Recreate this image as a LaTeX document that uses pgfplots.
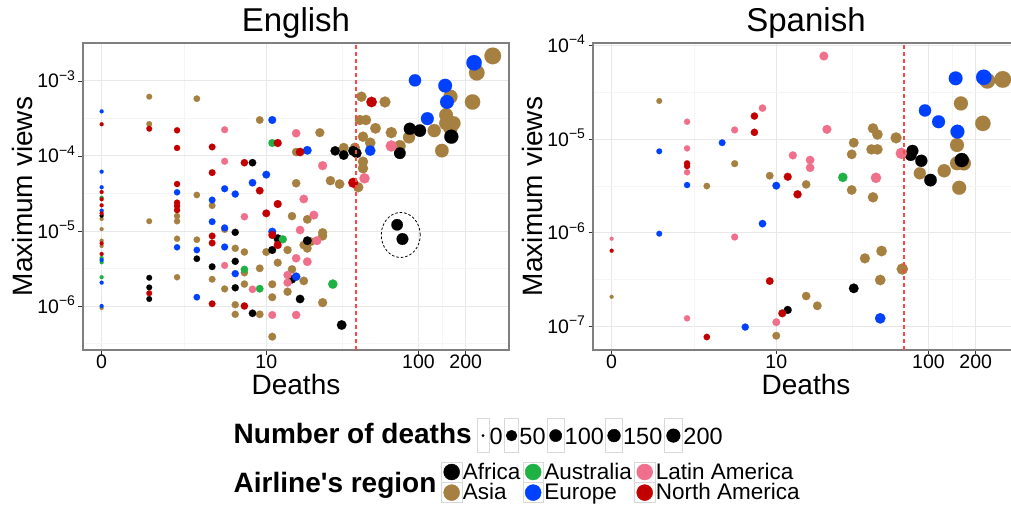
\documentclass[border=0pt]{standalone}
\usepackage{pgfplots}
\pgfplotsset{compat=1.18}
\usepackage{fontspec}
\setmainfont{Liberation Sans}
\definecolor{cAfr}{RGB}{0,0,0}
\definecolor{cAsi}{RGB}{166,128,64}
\definecolor{cAus}{RGB}{30,177,68}
\definecolor{cEur}{RGB}{0,64,255}
\definecolor{cLat}{RGB}{240,112,140}
\definecolor{cNor}{RGB}{195,0,0}
\definecolor{frameg}{RGB}{127,127,127}
\definecolor{gridmaj}{RGB}{232,232,232}
\definecolor{gridmin}{RGB}{245,245,245}
\definecolor{cVline}{RGB}{255,70,70}
\definecolor{keybox}{RGB}{217,217,217}
\newcommand{\tk}{\fontsize{19.5}{20}\selectfont}
\newcommand{\pw}[1]{10\raisebox{7.5pt}{\fontsize{14}{14}\selectfont −#1}}

\pgfplotsset{
  myPanel/.style={
    scale only axis, width=426pt, height=307pt,
    x coord trafo/.code={\pgfmathparse{log10(##1+1)}},
    xmin=-0.238, xmax=376.6,
    xtick={0,10,100,200}, xticklabels={0,10,100,200},
    minor xtick={2.31,32.1,141.2},
    grid=both,
    major grid style={color=gridmaj, line width=1pt},
    minor grid style={color=gridmin, line width=0.6pt},
    axis line style={color=frameg, line width=2.5pt},
    tick pos=left,
    tick align=outside, major tick length=4.5pt, minor tick length=0pt,
    tick style={color=black!80, line width=0.6pt},
    ticklabel style={font=\tk},
    xticklabel style={anchor=north, yshift=3pt},
    yticklabel style={anchor=base east, yshift=-7pt},
    title style={font=\fontsize{33}{36}\selectfont, at={(axis description cs:0.5,1)}, anchor=base, yshift=6pt},
    xlabel style={font=\fontsize{28}{30}\selectfont, at={(axis description cs:0.5,0)}, anchor=base, yshift=-44pt},
    ylabel style={font=\fontsize{28}{30}\selectfont, at={(axis description cs:-0.1185,0.5)}, anchor=base},
    xlabel=Deaths, ylabel=Maximum views,
    clip marker paths=true,
  },
  myReg/.style={scatter, only marks, mark=*,
    scatter/use mapped color={draw=#1, fill=#1},
    mark options={line width=0.1pt},
    visualization depends on={2+0.2*sqrt(\thisrow{d})+0.7*sqrt(sqrt(\thisrow{d})) \as \msize},
    scatter/@pre marker code/.append style={/tikz/mark size=\msize}},
}

\begin{document}
\begin{tikzpicture}
\useasboundingbox (0,0) rectangle (1011pt,504pt);

% ---------------- English ----------------
\begin{axis}[ymode=log, myPanel, at={(83pt,154pt)}, anchor=south west, title=English,
  ymin=2.59e-7, ymax=3.21e-3,
  ytick={1e-6,1e-5,1e-4,1e-3}, yticklabels={\pw{6},\pw{5},\pw{4},\pw{3}},
  minor ytick={3.162e-7,3.162e-6,3.162e-5,3.162e-4,3.162e-3}]
\addplot[myReg=cAsi] table {
d v
0 1.45e-5
0 1.06e-5
0 7.43e-6
0 6.31e-6
0 9.4e-7
1 6.18e-4
1 2.67e-4
1 1.35e-5
2 1.58e-5
2 1.35e-5
2 7.89e-6
2 2.42e-6
3 5.81e-4
3 3.02e-5
3 7.66e-6
4 2.18e-5
4 2.27e-6
5 1.05e-5
5 1.69e-6
6 5.88e-6
6 1.04e-6
6 7.75e-7
7 5.25e-6
7 2.78e-6
7 1.96e-6
9 3.02e-4
9 3.18e-6
9 7.75e-7
10 5.25e-6
11 1.95e-6
11 1.31e-6
11 3.9e-7
12 7.59e-6
12 3.78e-6
14 5.58e-6
14 1.55e-6
15 1.58e-5
15 3.08e-6
16 1.13e-4
16 4.33e-5
18 6.5e-6
18 2.16e-6
19 1.43e-5
19 5.88e-6
20 7.2e-6
23 2.05e-4
24 9.49e-6
24 8.58e-6
24 1.11e-6
27 4.69e-5
31 4.23e-5
33 1.29e-4
39 1.29e-4
41 3.83e-5
43 6.18e-4
42 3.02e-4
46 3.02e-4
44 1.81e-4
44 8.39e-5
44 6.86e-5
61 5.25e-4
53 2.34e-4
49 1.5e-4
76 1.36e-4
67 2.05e-4
87 1.77e-4
126 2.18e-4
150 3.52e-4
150 2.73e-4
167 2.73e-4
160 2.34e-4
160 6.18e-4
141 1.18e-4
235 1.29e-3
221 5.25e-4
297 2.16e-3
};
\addplot[myReg=cAfr] table {
d v
0 1.6e-5
1 2.38e-6
1 1.77e-6
1 1.24e-6
3 4.27e-6
4 3.34e-6
6 9.6e-6
6 3.94e-6
6 1.75e-6
8 8.14e-5
8 8.0e-7
11 5.58e-6
12 7.99e-6
15 2.27e-6
17 1.24e-6
19 7.43e-6
29 1.17e-4
33 1.03e-4
38 1.17e-4
40 1.09e-4
32 5.58e-7
73 1.21e-5
79 7.82e-6
76 1.09e-4
88 2.31e-4
102 2.18e-4
162 1.81e-4
};
\addplot[myReg=cAus] table {
d v
0 2.78e-5
0 4.36e-6
0 3.83e-6
0 2.42e-6
7 3.08e-6
9 1.70e-6
11 1.49e-4
13 7.75e-6
28 1.96e-6
};
\addplot[myReg=cEur] table {
d v
0 3.94e-4
0 6.18e-5
0 3.83e-5
0 1.87e-5
0 4.1e-6
0 2.05e-6
0 1.0e-6
2 3.28e-5
2 6.06e-6
3 5.58e-6
3 1.31e-6
4 2.59e-5
4 1.33e-5
5 3.66e-5
5 1.1e-5
5 6.12e-6
6 3.11e-5
6 2.7e-6
8 4.4e-5
10 5.64e-5
11 3.02e-4
11 9.8e-6
16 2.46e-6
19 1.19e-4
49 1.18e-4
95 1.02e-3
114 3.15e-4
148 8.67e-4
152 5.25e-4
226 1.75e-3
};
\addplot[myReg=cLat] table {
d v
5 2.24e-4
5 8.5e-5
5 3.48e-6
7 1.55e-5
8 1.67e-6
11 7.59e-7
14 2.59e-6
14 2.05e-6
16 2.01e-4
16 4.33e-6
16 7.59e-7
17 1.03e-5
18 2.67e-5
19 3.9e-6
21 1.63e-5
22 7.43e-6
24 7.43e-5
45 5.04e-5
67 1.36e-4
};
\addplot[myReg=cNor] table {
d v
0 2.65e-4
0 3.31e-5
0 2.65e-5
0 2.2e-5
0 1.72e-5
0 6.85e-6
0 4.94e-6
1 2.31e-4
1 1.48e-6
2 2.2e-4
2 1.28e-4
2 4.23e-5
2 2.39e-5
2 2.15e-5
2 1.9e-5
4 1.32e-4
4 6.0e-5
4 8.58e-6
4 6.92e-6
4 1.07e-6
7 8.14e-5
7 1.0e-6
9 3.45e-5
10 1.72e-5
11 8.85e-6
12 1.49e-4
12 2.29e-5
12 6.5e-6
17 1.13e-4
38 4.4e-5
50 5.25e-4
};
\draw[color=cVline, line width=1.7pt, dash pattern=on 4pt off 3pt] (axis cs:39.5,2.59e-7) -- (axis cs:39.5,3.21e-3);
\draw[black, line width=0.8pt, dash pattern=on 2.5pt off 2pt] (axis cs:77,8.85e-6) ellipse [x radius=19.5pt, y radius=22.5pt];
\end{axis}

% ---------------- Spanish ----------------
\begin{axis}[ymode=log, myPanel, at={(593pt,154pt)}, anchor=south west, title=Spanish,
  ymin=5.6e-8, ymax=1.06e-4,
  ytick={1e-7,1e-6,1e-5,1e-4}, yticklabels={\pw{7},\pw{6},\pw{5},\pw{4}},
  minor ytick={3.162e-8,3.162e-7,3.162e-6,3.162e-5}]
\addplot[myReg=cAsi] table {
d v
0 2.07e-7
1 2.55e-5
3 3.15e-6
5 5.46e-6
9 4.06e-6
10 7.96e-8
16 3.28e-6
16 2.11e-7
19 1.66e-7
33 9.14e-6
32 6.87e-6
32 2.86e-6
44 1.3e-5
47 1.12e-5
43 7.76e-6
47 7.76e-6
44 2.39e-6
62 1.03e-5
50 6.38e-7
39 5.33e-7
68 4.1e-7
49 3.13e-7
88 4.31e-6
126 4.59e-6
161 2.4e-5
152 8.63e-6
152 5.51e-6
168 5.51e-6
157 3.02e-6
222 1.47e-5
237 4.19e-5
297 4.33e-5
};
\addplot[myReg=cAfr] table {
d v
12 1.5e-7
33 2.55e-7
79 7.5e-6
77 6.75e-6
90 5.86e-6
103 3.65e-6
163 5.97e-6
};
\addplot[myReg=cAus] table {
d v
28 3.9e-6
};
\addplot[myReg=cEur] table {
d v
1 7.4e-6
1 9.77e-7
2 3.23e-6
4 9.14e-6
6 9.84e-8
8 1.25e-6
10 3.18e-6
49 1.22e-7
95 2.02e-5
116 1.53e-5
149 4.45e-5
153 1.2e-5
225 4.56e-5
};
\addplot[myReg=cLat] table {
d v
0 8.63e-7
2 1.53e-5
2 7.95e-6
2 4.42e-6
2 1.22e-7
5 1.25e-5
5 9.0e-7
8 2.14e-5
10 1.11e-7
13 6.7e-6
17 5.97e-6
17 4.94e-6
21 7.69e-5
22 1.27e-5
46 3.86e-6
67 7.04e-6
};
\addplot[myReg=cNor] table {
d v
0 6.43e-7
2 5.5e-6
2 5.15e-6
3 7.71e-8
7 1.76e-5
7 1.18e-5
9 3.05e-7
11 1.38e-7
12 3.96e-6
14 2.57e-6
};
\draw[color=cVline, line width=1.7pt, dash pattern=on 4pt off 3pt] (axis cs:69.4,5.6e-8) -- (axis cs:69.4,1.06e-4);
\end{axis}

% ---------------- legends ----------------
\node[font=\bfseries\fontsize{28}{30}\selectfont, anchor=base west, inner sep=0pt] at (233.5pt,61pt) {Number of deaths};
\node[font=\bfseries\fontsize{28}{30}\selectfont, anchor=base west, inner sep=0pt] at (233.5pt,12pt) {Airline\textquotesingle s region};

\begin{axis}[at={(0pt,0pt)}, anchor=south west, scale only axis, width=1011pt, height=504pt,
  hide axis, xmin=0, xmax=1, ymin=0, ymax=1,
  legend columns=5, legend cell align=left,
  legend style={at={(0.47181,0.17004)}, anchor=north west, draw=none, fill=none,
    inner sep=0pt, outer sep=0pt, column sep=0pt, row sep=0pt,
    font=\fontsize{23.5}{24}\selectfont,
    nodes={inner xsep=0.5pt, inner ysep=0pt, anchor=base west},
    /tikz/every even column/.append style={column sep=1pt}}]
\addlegendimage{legend image code/.code={\draw[keybox, line width=0.6pt] (0pt,-7.4pt) rectangle (11.5pt,26pt); \fill[black] (5.75pt,9pt) circle (1.2pt);}}
\addlegendentry{0}
\addlegendimage{legend image code/.code={\draw[keybox, line width=0.6pt] (0pt,-7.4pt) rectangle (14.2pt,26pt); \fill[black] (7.1pt,9pt) circle (5.4pt);}}
\addlegendentry{50}
\addlegendimage{legend image code/.code={\draw[keybox, line width=0.6pt] (0pt,-7.4pt) rectangle (16.5pt,26pt); \fill[black] (8.25pt,9pt) circle (6.1pt);}}
\addlegendentry{100}
\addlegendimage{legend image code/.code={\draw[keybox, line width=0.6pt] (0pt,-7.4pt) rectangle (16.6pt,26pt); \fill[black] (8.3pt,9pt) circle (6.4pt);}}
\addlegendentry{150}
\addlegendimage{legend image code/.code={\draw[keybox, line width=0.6pt] (0pt,-7.4pt) rectangle (18.5pt,26pt); \fill[black] (9.25pt,9pt) circle (6.8pt);}}
\addlegendentry{200}
\end{axis}

\begin{axis}[at={(0pt,0pt)}, anchor=south west, scale only axis, width=1011pt, height=504pt,
  hide axis, xmin=0, xmax=1, ymin=0, ymax=1,
  legend columns=3, legend cell align=left,
  legend style={at={(0.43640,0.08393)}, anchor=north west, draw=none, fill=none,
    inner sep=0pt, outer sep=0pt, column sep=0pt, row sep=0pt,
    font=\fontsize{22.5}{23}\selectfont,
    nodes={inner xsep=0.8pt, inner ysep=0pt, text height=17pt, text depth=3pt, anchor=base west},
    /tikz/every even column/.append style={column sep=1.5pt}}]
\addlegendimage{legend image code/.code={\draw[keybox, line width=0.6pt] (0pt,-3pt) rectangle (20.3pt,17pt); \fill[cAfr] (10.15pt,7pt) circle (8pt);}}
\addlegendentry{Africa}
\addlegendimage{legend image code/.code={\draw[keybox, line width=0.6pt] (0pt,-3pt) rectangle (20.3pt,17pt); \fill[cAus] (10.15pt,7pt) circle (8pt);}}
\addlegendentry{Australia}
\addlegendimage{legend image code/.code={\draw[keybox, line width=0.6pt] (0pt,-3pt) rectangle (20.3pt,17pt); \fill[cLat] (10.15pt,7pt) circle (8pt);}}
\addlegendentry{Latin America}
\addlegendimage{legend image code/.code={\draw[keybox, line width=0.6pt] (0pt,-3pt) rectangle (20.3pt,17pt); \fill[cAsi] (10.15pt,7pt) circle (8pt);}}
\addlegendentry{Asia}
\addlegendimage{legend image code/.code={\draw[keybox, line width=0.6pt] (0pt,-3pt) rectangle (20.3pt,17pt); \fill[cEur] (10.15pt,7pt) circle (8pt);}}
\addlegendentry{Europe}
\addlegendimage{legend image code/.code={\draw[keybox, line width=0.6pt] (0pt,-3pt) rectangle (20.3pt,17pt); \fill[cNor] (10.15pt,7pt) circle (8pt);}}
\addlegendentry{North America}
\end{axis}
\end{tikzpicture}
\end{document}
